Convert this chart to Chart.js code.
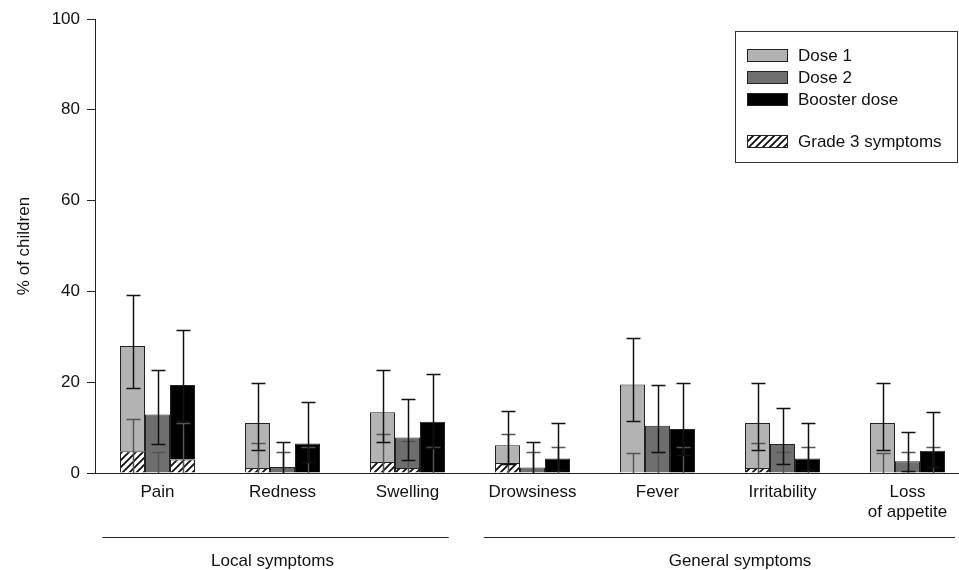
<!DOCTYPE html>
<html>
<head>
<meta charset="utf-8">
<script src="https://cdn.jsdelivr.net/npm/chart.js@4"></script>
<style>
  html, body { margin: 0; padding: 0; background: #fff; overflow: hidden; }
  #wrap { position: absolute; left: 0; top: 0; width: 975px; height: 570px; }
</style>
</head>
<body>
<div id="wrap"><canvas id="symptomChart" width="975" height="570"></canvas></div>
<script>
// categories and values (% of children)
const categories = ['Pain', 'Redness', 'Swelling', 'Drowsiness', 'Fever', 'Irritability', ['Loss', 'of appetite']];
const yTicks = [0, 20, 40, 60, 80, 100];

const dose1Total = [28.0, 11.0, 13.4, 6.1, 19.5, 11.0, 11.0];
const dose1Grade3 = [4.8, 1.1, 2.4, 2.2, 0, 1.1, 0];
const dose1Upper = [39.2, 19.8, 22.7, 13.7, 29.7, 19.8, 19.8];
const dose1Lower = [18.7, 5.0, 6.8, 2.0, 11.5, 5.0, 5.0];
const dose1Grade3Upper = [12.0, 6.5, 8.5, 8.5, 4.4, 6.5, 4.4];

const dose2Total = [12.9, 1.3, 7.8, 1.2, 10.4, 6.4, 2.6];
const dose2Grade3 = [0, 0, 1.1, 0, 0, 0, 0];
const dose2Upper = [22.6, 6.9, 16.3, 6.9, 19.3, 14.4, 9.0];
const dose2Lower = [6.3, 0.1, 2.8, 0.1, 4.6, 2.0, 0.4];
const dose2Grade3Upper = [4.6, 4.6, 7.0, 4.6, 4.6, 4.6, 4.6];

const boosterTotal = [19.4, 6.5, 11.3, 3.2, 9.7, 3.2, 4.9];
const boosterGrade3 = [3.0, 0, 0, 0, 0, 0, 0];
const boosterUpper = [31.4, 15.7, 21.8, 11.1, 19.9, 11.1, 13.5];
const boosterLower = [11.4, 2.5, 5.5, 0.6, 4.0, 0.6, 1.4];
const boosterGrade3Upper = [11.1, 5.7, 5.7, 5.7, 5.7, 5.7, 5.7];

// group brackets under the axis, positions in category units
const groups = [
    { label: 'Local symptoms', from: -0.44, to: 2.33, titleAt: 0.92 },
    { label: 'General symptoms', from: 2.61, to: 6.38, titleAt: 4.66 }
];

const FONT = "'Liberation Sans', Arial, Helvetica, sans-serif";
const INK = '#111';

// white background with //// stripes for grade 3 part
function makeHatch() {
    const s = 7;
    const c = document.createElement('canvas');
    c.width = s; c.height = s;
    const g = c.getContext('2d');
    g.fillStyle = '#fff';
    g.fillRect(0, 0, s, s);
    g.strokeStyle = '#111';
    g.lineWidth = 1.9;
    g.beginPath();
    g.moveTo(0, s); g.lineTo(s, 0);
    g.moveTo(-2, 2); g.lineTo(2, -2);
    g.moveTo(s - 2, s + 2); g.lineTo(s + 2, s - 2);
    g.stroke();
    return document.getElementById('symptomChart').getContext('2d').createPattern(c, 'repeat');
}
const hatch = makeHatch();

const doses = [
    { name: 'Dose 1', stack: 'd1', color: '#b3b3b3', total: dose1Total, g3: dose1Grade3, upper: dose1Upper, lower: dose1Lower, g3Upper: dose1Grade3Upper },
    { name: 'Dose 2', stack: 'd2', color: '#6e6e6e', total: dose2Total, g3: dose2Grade3, upper: dose2Upper, lower: dose2Lower, g3Upper: dose2Grade3Upper },
    { name: 'Booster dose', stack: 'd3', color: '#000000', total: boosterTotal, g3: boosterGrade3, upper: boosterUpper, lower: boosterLower, g3Upper: boosterGrade3Upper }
];

const datasets = [];
doses.forEach(d => {
    datasets.push({
        label: d.name + ' grade 3',
        data: d.g3,
        stack: d.stack,
        backgroundColor: hatch,
        borderColor: '#222',
        borderWidth: 1
    });
    datasets.push({
        label: d.name,
        data: d.total.map((t, i) => +(t - d.g3[i]).toFixed(2)),
        stack: d.stack,
        backgroundColor: d.color,
        borderColor: '#222',
        borderWidth: 1,
        errUpper: d.upper,
        errLower: d.lower,
        errG3: d.g3Upper
    });
});

function drawBar(ctx, x, yTop, yBottom, color, capTop, capBottom) {
    const capHalf = 7;
    ctx.strokeStyle = color;
    ctx.beginPath();
    ctx.moveTo(x, yTop);
    ctx.lineTo(x, yBottom);
    if (capTop) { ctx.moveTo(x - capHalf, yTop); ctx.lineTo(x + capHalf, yTop); }
    if (capBottom) { ctx.moveTo(x - capHalf, yBottom); ctx.lineTo(x + capHalf, yBottom); }
    ctx.stroke();
}

// error bars: total CI in black, grade 3 CI (from 0) in dark gray
const errorBars = {
    id: 'errorBars',
    afterDatasetsDraw(chart) {
        const ctx = chart.ctx;
        const y = chart.scales.y;
        const py = v => Math.round(y.getPixelForValue(v)) + 0.5;
        ctx.save();
        ctx.lineWidth = 1.5;
        chart.data.datasets.forEach((ds, di) => {
            if (!ds.errUpper) return;
            const meta = chart.getDatasetMeta(di);
            meta.data.forEach((bar, i) => {
                const x = Math.round(bar.x) + 0.5;
                drawBar(ctx, x, py(ds.errG3[i]), py(0), '#555', true, false);
                drawBar(ctx, x, py(ds.errUpper[i]), py(ds.errLower[i]), '#111', true, ds.errLower[i] > 0.3);
            });
        });
        ctx.restore();
    }
};

// boxed legend inside the plot, group lines and group titles below the axis
const decorations = {
    id: 'decorations',
    afterDraw(chart) {
        const ctx = chart.ctx;
        const x = chart.scales.x;
        const step = x.getPixelForValue(1) - x.getPixelForValue(0);
        const at = f => x.getPixelForValue(0) + f * step;
        ctx.save();

        // legend box
        ctx.strokeStyle = '#333';
        ctx.lineWidth = 1;
        ctx.strokeRect(735.5, 31.5, 222, 131);
        const rows = [
            { text: 'Dose 1', fill: doses[0].color, y: 55 },
            { text: 'Dose 2', fill: doses[1].color, y: 77 },
            { text: 'Booster dose', fill: doses[2].color, y: 99 },
            { text: 'Grade 3 symptoms', fill: hatch, y: 141 }
        ];
        ctx.font = '17px ' + FONT;
        ctx.textBaseline = 'middle';
        ctx.textAlign = 'left';
        rows.forEach(r => {
            ctx.fillStyle = r.fill;
            ctx.fillRect(747, r.y - 6, 41, 13);
            ctx.strokeStyle = '#222';
            ctx.strokeRect(747.5, r.y - 5.5, 40, 12);
            ctx.fillStyle = INK;
            ctx.fillText(r.text, 798, r.y + 1);
        });

        // group lines and labels
        ctx.strokeStyle = '#222';
        ctx.lineWidth = 1;
        ctx.textAlign = 'center';
        groups.forEach(g => {
            ctx.beginPath();
            ctx.moveTo(at(g.from), 537.5);
            ctx.lineTo(at(g.to), 537.5);
            ctx.stroke();
            ctx.fillStyle = INK;
            ctx.fillText(g.label, at(g.titleAt), 561);
        });
        ctx.restore();
    }
};

const config = {
    type: 'bar',
    data: { labels: categories, datasets: datasets },
    options: {
        responsive: false,
        animation: false,
        layout: { padding: { top: 19, right: 5, left: 0, bottom: 0 } },
        datasets: { bar: { categoryPercentage: 0.6, barPercentage: 1.0 } },
        plugins: {
            legend: { display: false },
            tooltip: { enabled: false }
        },
        scales: {
            x: {
                stacked: true,
                grid: { display: false, drawTicks: false },
                border: { display: true, color: '#222', width: 1 },
                ticks: {
                    color: INK,
                    font: { family: FONT, size: 17 },
                    padding: 9,
                    maxRotation: 0,
                    autoSkip: false
                },
                afterFit(scale) { scale.height = 97; }
            },
            y: {
                stacked: true,
                min: 0,
                max: 100,
                afterBuildTicks(scale) { scale.ticks = yTicks.map(v => ({ value: v })); },
                grid: { drawOnChartArea: false, drawTicks: true, tickLength: 8, color: '#222' },
                border: { display: true, color: '#222', width: 1 },
                ticks: {
                    color: INK,
                    font: { family: FONT, size: 17 },
                    padding: 7
                },
                title: {
                    display: true,
                    text: '% of children',
                    color: INK,
                    font: { family: FONT, size: 17 },
                    padding: { top: 14, bottom: 0 }
                },
                afterFit(scale) { scale.width = 95; }
            }
        }
    },
    plugins: [errorBars, decorations]
};

const ctx = document.getElementById('symptomChart').getContext('2d');
const symptomChart = new Chart(ctx, config);
</script>
</body>
</html>
